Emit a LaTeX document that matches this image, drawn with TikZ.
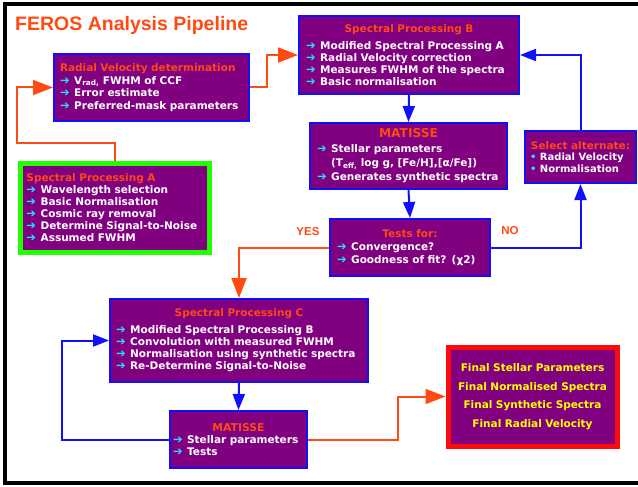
\documentclass[tikz,border=0pt]{standalone}
\usepackage{fontspec}
\setmainfont{DejaVu Sans}
\newfontfamily\arialfont{Liberation Sans}
\newfontfamily\symfont{DejaVu Sans}
\usetikzlibrary{arrows.meta}
\hyphenpenalty=10000
\definecolor{boxpurple}{HTML}{800080}
\definecolor{boxblue}{HTML}{1010FF}
\definecolor{hdorange}{HTML}{FF4A14}
\definecolor{bulletcyan}{HTML}{22E0FF}
\definecolor{boxgreen}{HTML}{22FF00}
\definecolor{finalred}{HTML}{FF0A0A}
\definecolor{finalyellow}{HTML}{FFFF00}
\newcommand{\hd}[1]{\textcolor{hdorange}{#1}}
\newcommand{\cyanarrow}{\textcolor{bulletcyan}{\symfont\fontsize{11.5}{11}\selectfont\char"2794}\hspace{4.5pt}}
\newcommand{\cyandot}{\textcolor{bulletcyan}{\textbullet}\ }
\tikzset{
  box/.style={draw=boxblue, line width=2pt, fill=boxpurple, anchor=north west,
    inner xsep=7pt, inner ysep=0pt, text=white, align=left,
    font=\bfseries\fontsize{10.5}{12}\selectfont},
  blueline/.style={draw=boxblue, line width=2pt, -{Triangle[width=12pt,length=16pt]}},
  orangeline/.style={draw=hdorange, line width=2pt, -{Triangle[width=15pt,length=20pt]}},
  yesno/.style={text=hdorange, inner sep=0pt, font=\arialfont\bfseries\fontsize{11.5}{12}\selectfont}
}
\begin{document}
\begin{tikzpicture}[x=1pt,y=-1pt]
\useasboundingbox (0,0) rectangle (638,487);
% frame
\fill[black] (3,2) rectangle (638,6);
\fill[black] (3,2) rectangle (7,485);
\fill[black] (3,481) rectangle (638,485);

\node[anchor=base west, inner sep=0pt, text=hdorange, font=\arialfont\bfseries\fontsize{19.5}{20}\selectfont] (title) at (15,31) {FEROS Analysis Pipeline};

\node[box, inner xsep=6pt, minimum width=195, minimum height=67, text width=183,
  font=\bfseries\fontsize{10.5}{12.7}\selectfont] (rv) at (53,53) {%
  \hd{Radial Velocity determination}\\
  \cyanarrow V\textsubscript{rad,} FWHM of CCF\\
  \cyanarrow Error estimate\\
  \cyanarrow Preferred-mask parameters};

\node[box, draw=boxgreen, line width=5pt, inner xsep=6.5pt, minimum width=189, minimum height=89, text width=176] (spa) at (17.5,160.5) {%
  \hd{Spectral Processing A}\\
  \cyanarrow Wavelength selection\\
  \cyanarrow Basic Normalisation\\
  \cyanarrow Cosmic ray removal\\
  \cyanarrow Determine Signal-to-Noise\\
  \cyanarrow Assumed FWHM};

\node[box, minimum width=220, minimum height=78, text width=206] (spb) at (298,15) {%
  {\centering\hd{Spectral Processing B}\par}\vspace{5pt}
  \cyanarrow Modified Spectral Processing A\\
  \cyanarrow Radial Velocity correction\\
  \cyanarrow Measures FWHM of the spectra\\
  \cyanarrow Basic normalisation};

\node[box, minimum width=197, minimum height=66, text width=183,
  font=\bfseries\fontsize{10.5}{14.3}\selectfont] (mat) at (309,122) {%
  {\centering\fontsize{12.2}{13}\selectfont\hd{MATISSE}\par}
  \cyanarrow Stellar parameters\\
  \phantom{\cyanarrow}(T\textsubscript{eff,} log g, [Fe/H],[α/Fe])\\
  \cyanarrow Generates synthetic spectra};

\node[box, inner xsep=2pt, minimum width=111, minimum height=52, text width=107] (sel) at (524,130) {%
  {\centering\hd{Select alternate:}\par}
  {\fontsize{10}{11.5}\selectfont
  \hspace*{3pt}\cyandot Radial Velocity\\
  \hspace*{3pt}\cyandot Normalisation\par}};

\node[box, minimum width=160, minimum height=57, text width=146,
  font=\bfseries\fontsize{10.5}{13}\selectfont] (tests) at (329,218) {%
  {\centering\hd{Tests for:}\par}
  \cyanarrow Convergence?\\
  \cyanarrow Goodness of fit? (χ2)};

\node[box, inner xsep=6pt, minimum width=258, minimum height=83, text width=246] (spc) at (109,298) {%
  {\centering\hd{Spectral Processing C}\par}\vspace{5pt}
  \cyanarrow Modified Spectral Processing B\\
  \cyanarrow Convolution with measured FWHM\\
  \cyanarrow Normalisation using synthetic spectra\\
  \cyanarrow Re-Determine Signal-to-Noise};

\node[box, inner xsep=3pt, minimum width=137, minimum height=57, text width=131] (mat2) at (169,410) {%
  {\centering\fontsize{10.8}{13}\selectfont\hd{MATISSE}\par}
  \cyanarrow Stellar parameters\\
  \cyanarrow Tests};

\node[box, draw=finalred, line width=5pt, minimum width=169, minimum height=99, text width=160,
  inner xsep=2pt, align=center, text=finalyellow, font=\bfseries\fontsize{10.5}{18.7}\selectfont] (fin) at (445.5,344.5) {%
  Final Stellar Parameters\\
  Final Normalised Spectra\\
  Final Synthetic Spectra\\
  Final Radial Velocity};

% connectors
\draw[orangeline] (spa.north) -- ++(0,-18) -| (17,100) |- (rv.west);
\draw[orangeline] (rv.east) -- ++(17,0) |- (spb.west);
\draw[blueline] (spb.south) -- (mat.north);
\draw[blueline] (mat.south) -- (tests.north);
\draw[blueline] (tests.east) -| (sel.south);
\draw[blueline] (sel.north) |- (spb.east);
\draw[orangeline] (tests.west) -| (spc.north);
\draw[blueline] (spc.south) -- (mat2.north);
\draw[blueline] (mat2.west) -- ++(-107,0) |- (spc.west);
\draw[orangeline] (mat2.east) -- ++(90,0) |- (fin.west);

\node[yesno] (yes) at (308,232) {YES};
\node[yesno] (no) at (510,231) {NO};
\end{tikzpicture}
\end{document}
